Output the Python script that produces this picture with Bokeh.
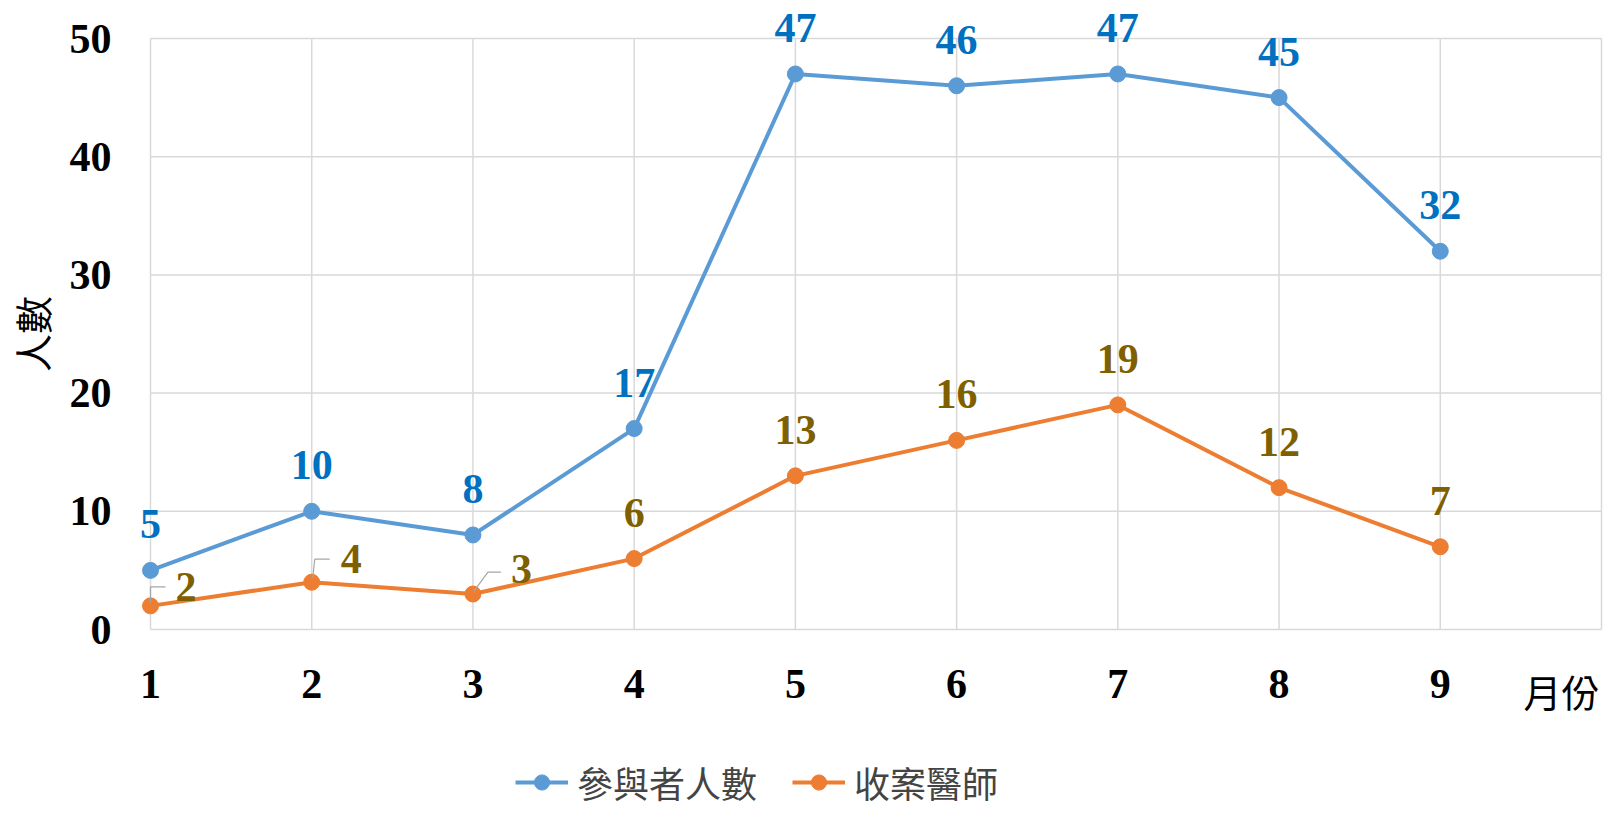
import math
from bokeh.plotting import figure
from bokeh.models import (ColumnDataSource, Range1d, FixedTicker, LabelSet, Label,
                          Legend, LegendItem)
from bokeh.embed import file_html
from bokeh.resources import INLINE

# ---- data ----
months = [1, 2, 3, 4, 5, 6, 7, 8, 9]
month_labels = ["1", "2", "3", "4", "5", "6", "7", "8", "9"]
participants = [5, 10, 8, 17, 47, 46, 47, 45, 32]
doctors = [2, 4, 3, 6, 13, 16, 19, 12, 7]
series_names = ["參與者人數", "收案醫師"]
y_ticks = [0, 10, 20, 30, 40, 50]
x_min, x_max = 1, 10          # plot-area extent in data units
y_min, y_max = 0, 50

# ---- styles / layout ----
BLUE = "#5B9BD5"
ORANGE = "#ED7D31"
BLUE_TXT = "#0070C0"
ORANGE_TXT = "#7F6000"
GRID = "#D9D9D9"
NUM_FONT = "Liberation Serif"
CJK_FONT = "Noto Sans CJK TC"

W, H = 1603, 811
# plot area inside the canvas (pixels)
PA_L, PA_R, PA_T, PA_B = 150, 1601, 38, 629
kx = (PA_R - PA_L) / (x_max - x_min)
ky = (PA_B - PA_T) / (y_max - y_min)
xr = Range1d(x_min - PA_L / kx, x_max + (W - PA_R) / kx)
yr = Range1d(y_min - (H - PA_B) / ky, y_max + PA_T / ky)

p = figure(width=W, height=H, output_backend="svg", toolbar_location=None,
           x_range=xr, y_range=yr, min_border=0)
p.outline_line_color = None
p.background_fill_color = "white"
p.border_fill_color = "white"
p.xgrid.visible = False
p.ygrid.visible = False

p.xaxis.ticker = FixedTicker(ticks=months)
p.xaxis.major_label_overrides = {m: l for m, l in zip(months, month_labels)}
p.yaxis.ticker = FixedTicker(ticks=y_ticks)
p.xaxis.fixed_location = y_min
p.yaxis.fixed_location = x_min
for ax in (p.xaxis, p.yaxis):
    ax.axis_line_color = None
    ax.major_tick_line_color = None
    ax.minor_tick_line_color = None
    ax.major_label_text_font = NUM_FONT
    ax.major_label_text_font_style = "bold"
    ax.major_label_text_font_size = "42px"
    ax.major_label_text_color = "black"
p.xaxis.major_label_standoff = 34
p.yaxis.major_label_standoff = 33

# grid lines limited to the plot area
vx = months + [x_max]
p.segment(x0=vx, y0=[y_min] * len(vx), x1=vx, y1=[y_max] * len(vx),
          line_color=GRID, line_width=1.5)
p.segment(x0=[x_min] * len(y_ticks), y0=y_ticks, x1=[x_max] * len(y_ticks), y1=y_ticks,
          line_color=GRID, line_width=1.5)

src = ColumnDataSource(dict(x=months, a=participants, b=doctors,
                            at=[str(v) for v in participants]))

l1 = p.line("x", "a", source=src, line_color=BLUE, line_width=4)
s1 = p.scatter("x", "a", source=src, size=16, fill_color=BLUE, line_color=BLUE)
l2 = p.line("x", "b", source=src, line_color=ORANGE, line_width=4)
s2 = p.scatter("x", "b", source=src, size=16, fill_color=ORANGE, line_color=ORANGE)

# leader lines for the first three orange labels (pixel offsets -> data units)
lead_pts = [[(0, 3), (0, 19), (15, 19)],
            [(1, 4), (3, 23), (18, 23)],
            [(1, 3), (15, 22), (28, 22)]]
lx, ly = [], []
for i, pts in enumerate(lead_pts):
    lx.append([months[i] + dx / kx for dx, dy in pts])
    ly.append([doctors[i] + dy / ky for dx, dy in pts])
p.multi_line(lx, ly, line_color="#A6A6A6", line_width=1.2)

lab_common = dict(text_font=NUM_FONT, text_font_style="bold",
                  text_font_size="42px", text_baseline="alphabetic")
p.add_layout(LabelSet(x="x", y="a", text="at", source=src, text_align="center",
                      y_offset=32, text_color=BLUE_TXT, **lab_common))
src_b1 = ColumnDataSource(dict(x=months[3:], y=doctors[3:],
                               t=[str(v) for v in doctors[3:]]))
p.add_layout(LabelSet(x="x", y="y", text="t", source=src_b1, text_align="center",
                      y_offset=32, text_color=ORANGE_TXT, **lab_common))
src_b2 = ColumnDataSource(dict(x=months[:3], y=doctors[:3],
                               t=[str(v) for v in doctors[:3]],
                               xo=[25, 29, 38], yo=[5, 9, 11]))
p.add_layout(LabelSet(x="x", y="y", text="t", source=src_b2, text_align="left",
                      x_offset="xo", y_offset="yo", text_color=ORANGE_TXT, **lab_common))

# axis titles
p.add_layout(Label(x=x_min, y=(y_min + y_max) / 2, x_offset=-119, text="人數",
                   angle=math.pi / 2, text_align="center", text_baseline="middle",
                   text_font=CJK_FONT, text_font_size="38px", text_color="black"))
p.add_layout(Label(x=x_max, y=y_min, x_offset=-40, y_offset=-61, text="月份",
                   text_align="center", text_baseline="middle",
                   text_font=CJK_FONT, text_font_size="38px", text_color="black"))

legend = Legend(items=[LegendItem(label=series_names[0], renderers=[l1, s1]),
                       LegendItem(label=series_names[1], renderers=[l2, s2])],
                orientation="horizontal", location=(515, 3),
                label_text_font=CJK_FONT, label_text_font_size="36px",
                glyph_width=53, glyph_height=38, label_standoff=9, spacing=35,
                padding=0, margin=0, border_line_color=None,
                background_fill_alpha=0)
p.add_layout(legend)

open("out.html", "w").write(file_html(p, INLINE))
